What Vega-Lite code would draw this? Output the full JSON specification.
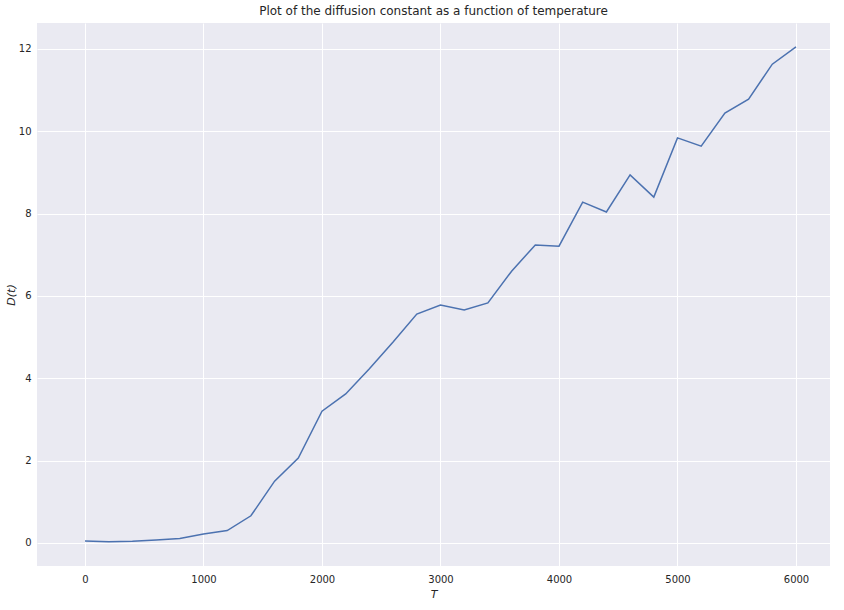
{
  "$schema": "https://vega.github.io/schema/vega-lite/v6.json",
  "width": 793,
  "height": 543,
  "autosize": {"type": "none"},
  "padding": {"left": 37, "top": 23, "right": 14, "bottom": 44},
  "title": {"text": "Plot of the diffusion constant as a function of temperature", "fontSize": 12, "fontWeight": "normal", "font": "DejaVu Sans", "color": "#262626", "offset": 5},
  "data": {"values": [
    {"T": 0, "D": 0.05}, {"T": 200, "D": 0.03}, {"T": 400, "D": 0.04}, {"T": 600, "D": 0.07},
    {"T": 800, "D": 0.11}, {"T": 1000, "D": 0.22}, {"T": 1200, "D": 0.3}, {"T": 1400, "D": 0.66},
    {"T": 1600, "D": 1.5}, {"T": 1800, "D": 2.06}, {"T": 2000, "D": 3.2}, {"T": 2200, "D": 3.62},
    {"T": 2400, "D": 4.23}, {"T": 2600, "D": 4.88}, {"T": 2800, "D": 5.56}, {"T": 3000, "D": 5.78},
    {"T": 3200, "D": 5.66}, {"T": 3400, "D": 5.83}, {"T": 3600, "D": 6.6}, {"T": 3800, "D": 7.24},
    {"T": 4000, "D": 7.21}, {"T": 4200, "D": 8.28}, {"T": 4400, "D": 8.04}, {"T": 4600, "D": 8.94},
    {"T": 4800, "D": 8.4}, {"T": 5000, "D": 9.84}, {"T": 5200, "D": 9.64}, {"T": 5400, "D": 10.44},
    {"T": 5600, "D": 10.78}, {"T": 5800, "D": 11.63}, {"T": 6000, "D": 12.05}
  ]},
  "mark": {"type": "line", "color": "#4c72b0", "strokeWidth": 1.5},
  "encoding": {
    "x": {"field": "T", "type": "quantitative", "title": "T",
      "scale": {"domain": [-405, 6287], "nice": false, "zero": false},
      "axis": {"values": [0, 1000, 2000, 3000, 4000, 5000, 6000], "format": "d", "titleFontStyle": "italic"}},
    "y": {"field": "D", "type": "quantitative", "title": "D(t)",
      "scale": {"domain": [-0.56, 12.63], "nice": false, "zero": false},
      "axis": {"values": [0, 2, 4, 6, 8, 10, 12], "titleFontStyle": "italic", "labelPadding": 6, "titlePadding": 2}}
  },
  "config": {
    "view": {"fill": "#eaeaf2", "stroke": null},
    "axis": {"grid": true, "gridColor": "#ffffff", "gridWidth": 1, "domain": false, "ticks": false,
      "labelFont": "DejaVu Sans", "labelFontSize": 10, "labelColor": "#262626", "labelPadding": 8,
      "titleFont": "DejaVu Sans", "titleFontSize": 11, "titleFontWeight": "normal", "titleColor": "#262626", "titlePadding": 4}
  }
}
